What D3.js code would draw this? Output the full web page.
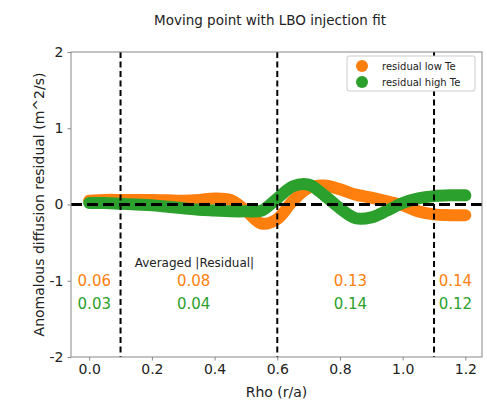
<!DOCTYPE html>
<html>
<head>
<meta charset="utf-8">
<script src="https://cdn.jsdelivr.net/npm/d3@7"></script>
<style>
  body { margin: 0; background: #fff; }
  text { font-family: "DejaVu Sans", sans-serif; }
</style>
</head>
<body>
<div id="canvas"></div>
<script>
const rho = [0, 0.05, 0.1, 0.15, 0.2, 0.25, 0.3, 0.35, 0.4, 0.45, 0.5, 0.55, 0.6,
  0.65, 0.7, 0.75, 0.8, 0.85, 0.9, 0.95, 1.0, 1.05, 1.1, 1.15, 1.2];
const residualLow = [0.05, 0.06, 0.06, 0.06, 0.06, 0.055, 0.05, 0.06, 0.08, 0.06, -0.08, -0.25, -0.19,
  0.05, 0.22, 0.25, 0.2, 0.13, 0.09, 0.04, -0.01, -0.09, -0.13, -0.14, -0.14];
const residualHigh = [0.02, 0.02, 0.01, 0.0, -0.01, -0.03, -0.05, -0.07, -0.08, -0.09, -0.09, -0.08, 0.08,
  0.24, 0.26, 0.12, -0.05, -0.18, -0.17, -0.08, 0.02, 0.08, 0.11, 0.12, 0.12];
const regionBounds = [0.1, 0.6, 1.1];
const avgX = [-0.037, 0.28, 0.78, 1.115];
const avgLow = ["0.06", "0.08", "0.13", "0.14"];
const avgHigh = ["0.03", "0.04", "0.14", "0.12"];
const xTicks = [0, 0.2, 0.4, 0.6, 0.8, 1.0, 1.2];
const yTicks = [-2, -1, 0, 1, 2];
const seriesNames = ["residual low Te", "residual high Te"];
const colors = ["#ff7f0e", "#2ca02c"];

const width = 487, height = 404;
const margin = { top: 52, left: 71, bottom: 47, right: 5 };
const iwidth = width - margin.left - margin.right;
const iheight = height - margin.top - margin.bottom;

const svg = d3.select("#canvas").append("svg")
  .attr("width", width).attr("height", height);

svg.append("text")
  .attr("x", 270).attr("y", 25)
  .attr("text-anchor", "middle")
  .style("font-size", "13.5px").attr("fill", "#222")
  .text("Moving point with LBO injection fit");

const g = svg.append("g").attr("transform", `translate(${margin.left},${margin.top})`);

const x = d3.scaleLinear().domain([-0.058, 1.253]).range([0, iwidth]);
const y = d3.scaleLinear().domain([-2, 2]).range([iheight, 0]);

// curves
const line = d3.line().curve(d3.curveCatmullRom.alpha(0.5))
  .x((d) => x(d[0])).y((d) => y(d[1]));
[residualLow, residualHigh].forEach((vals, i) => {
  g.append("path")
    .datum(rho.map((r, j) => [r, vals[j]]))
    .attr("d", line)
    .attr("fill", "none")
    .attr("stroke", colors[i])
    .attr("stroke-width", 12)
    .attr("stroke-linecap", "round")
    .attr("stroke-linejoin", "round");
});

// zero line and region boundaries
g.append("line")
  .attr("x1", 0).attr("x2", iwidth)
  .attr("y1", y(0)).attr("y2", y(0))
  .attr("stroke", "#000").attr("stroke-width", 3)
  .attr("stroke-dasharray", "11,5");
g.selectAll(".vline").data(regionBounds).enter().append("line")
  .attr("class", "vline")
  .attr("x1", (d) => x(d)).attr("x2", (d) => x(d))
  .attr("y1", 0).attr("y2", iheight)
  .attr("stroke", "#000").attr("stroke-width", 2)
  .attr("stroke-dasharray", "6,3.5");

// averaged residual annotation
g.append("text")
  .attr("x", x(0.145)).attr("y", y(-0.76))
  .attr("dy", "0.35em")
  .style("font-size", "12px").attr("fill", "#222")
  .text("Averaged |Residual|");
[avgLow, avgHigh].forEach((labels, i) => {
  g.selectAll(".avg" + i).data(labels).enter().append("text")
    .attr("class", "avg" + i)
    .attr("x", (d, j) => x(avgX[j]))
    .attr("y", y(i === 0 ? -1 : -1.3))
    .attr("dy", "0.35em")
    .style("font-size", "15px")
    .attr("fill", colors[i])
    .text((d) => d);
});

// axes
const xAxis = g.append("g")
  .attr("transform", `translate(0,${iheight})`)
  .call(d3.axisBottom(x).tickValues(xTicks).tickFormat(d3.format(".1f")).tickSizeOuter(0).tickSize(3.5).tickPadding(4));
const yAxis = g.append("g")
  .call(d3.axisLeft(y).tickValues(yTicks).tickFormat((d) => String(d)).tickSizeOuter(0).tickSize(3.5).tickPadding(4));
[xAxis, yAxis].forEach((a) => {
  a.selectAll("text").style("font-size", "14px").attr("fill", "#222")
    .style("font-family", "DejaVu Sans, sans-serif");
  a.selectAll("line").attr("stroke", "#888");
  a.select(".domain").remove();
});

g.append("rect")
  .attr("width", iwidth).attr("height", iheight)
  .attr("fill", "none").attr("stroke", "#888").attr("stroke-width", 1);

svg.append("text")
  .attr("x", margin.left + iwidth / 2).attr("y", 397)
  .attr("text-anchor", "middle")
  .style("font-size", "14px").attr("fill", "#222")
  .text("Rho (r/a)");
svg.append("text")
  .attr("transform", `translate(44,${margin.top + iheight / 2}) rotate(-90)`)
  .attr("text-anchor", "middle")
  .style("font-size", "14px").attr("fill", "#222")
  .text("Anomalous diffusion residual (m^2/s)");

// legend
const legend = svg.append("g").attr("transform", "translate(347,56)");
legend.append("rect")
  .attr("width", 128).attr("height", 35).attr("rx", 2)
  .attr("fill", "#fff").attr("stroke", "#ccc");
seriesNames.forEach((name, i) => {
  legend.append("circle")
    .attr("cx", 15).attr("cy", 10 + i * 16).attr("r", 6)
    .attr("fill", colors[i]);
  legend.append("text")
    .attr("x", 35).attr("y", 10 + i * 16).attr("dy", "0.35em")
    .style("font-size", "10px").attr("fill", "#222")
    .text(name);
});
</script>
</body>
</html>
